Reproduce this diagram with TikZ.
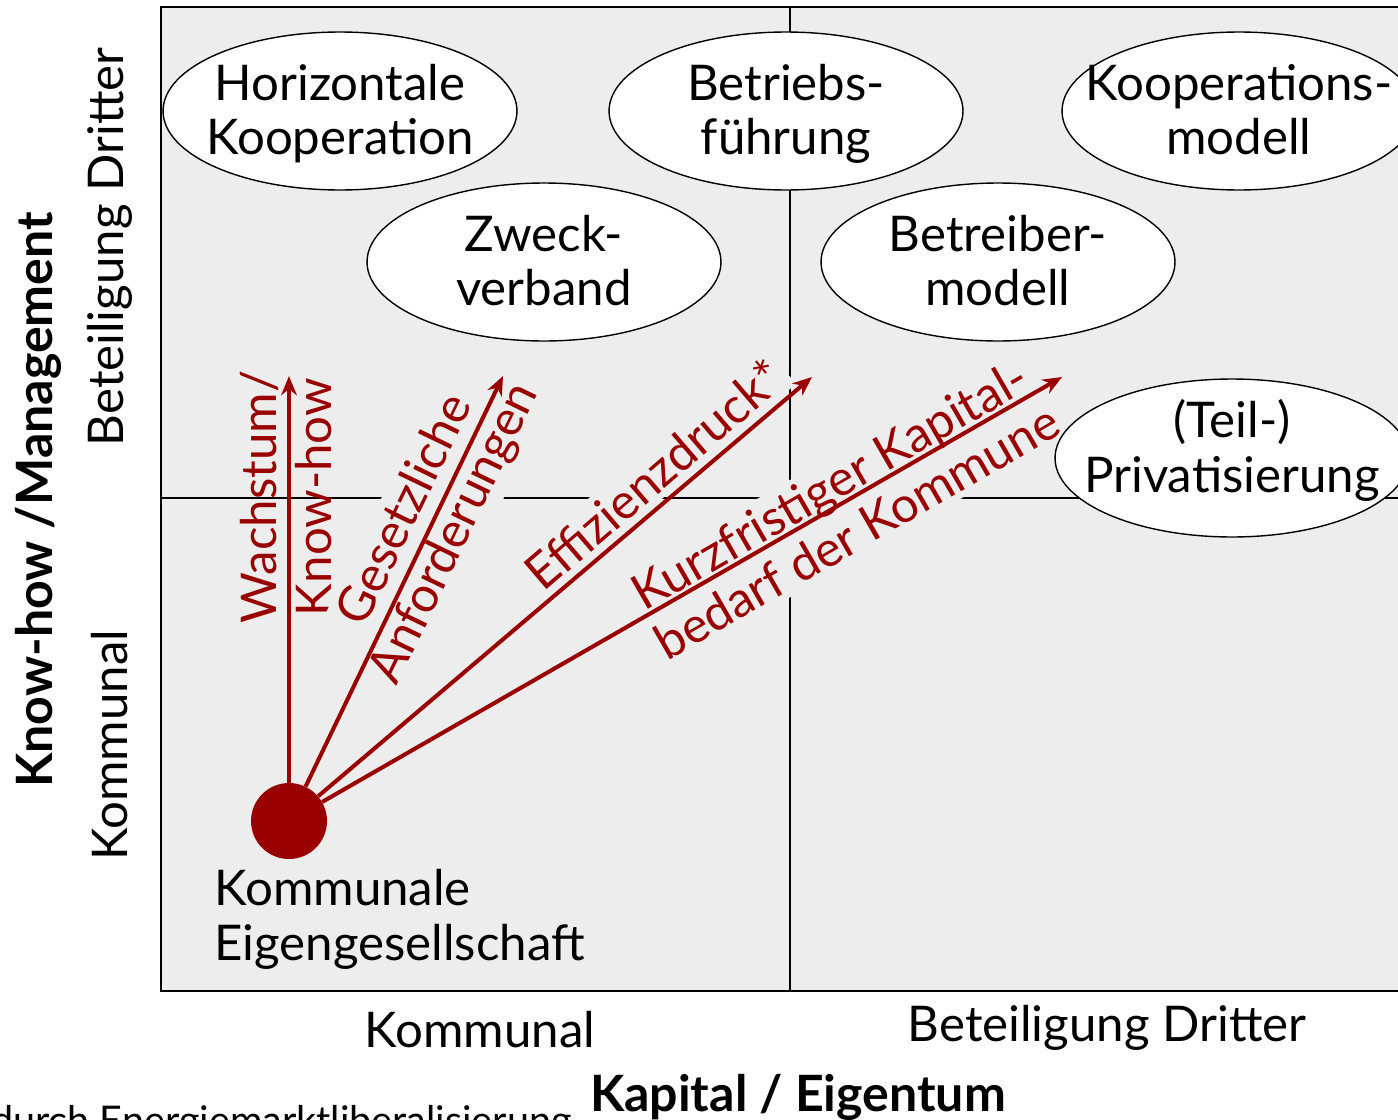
\documentclass[tikz,border=0pt]{standalone}
\usepackage{fontspec}
\setmainfont{Lato}
\usetikzlibrary{shapes.geometric,arrows.meta}
\definecolor{panelgray}{HTML}{EDEDED}
\definecolor{forcered}{HTML}{990000}
% two centred lines in an empty box, its last baseline #1 below the centre,
% so the ellipse keeps its own size
\newcommand\twolines[3][25pt]{\makebox[0pt]{\raisebox{-#1}[0pt][0pt]{%
  \begin{tabular}[b]{@{}c@{}}#2\\#3\end{tabular}}}}
\begin{document}
\begin{tikzpicture}[x=0.02cm,y=-0.02cm,
  big/.style={font=\fontsize{28}{31}\selectfont},
  model/.style={ellipse,draw=black,fill=white,line width=0.8pt,
    minimum width=7.08cm,minimum height=3.16cm,inner sep=0pt,big},
  force/.style={forcered,align=center,big},
  masked/.style={force,fill=panelgray,inner sep=3pt},
  push/.style={forcered,line width=2.3pt,-{Stealth[length=11pt,width=9pt]}},
  axis/.style={big},
  axisbold/.style={font=\fontsize{28.5}{30}\selectfont\bfseries}]
\useasboundingbox (0,0) rectangle (1398,1119);
\clip (0,0) rectangle (1398,1119);

% panel and quadrant dividers
\draw[fill=panelgray,line width=0.8pt] (161,7) rectangle (1420,991);
\draw[line width=0.8pt] (790,7) -- (790,991);
\draw[line width=0.8pt] (161,498) -- (1420,498);

% force labels
\node[force,rotate=90] (wk) at (286,497) {Wachstum/\\Know-how};
\node[masked,rotate=64.2] (ga) at (431,522) {Gesetzliche\\Anforderungen};
\node[masked,rotate=40.6] (ez) at (654,474) {Effizienzdruck*};
\node[masked,rotate=30] (kk) at (843,508) {Kurzfristiger Kapital-\\bedarf der Kommune};

% organisational models
\node[model] (hk) at (340,111) {\twolines{Horizontale}{Kooperation}};
\node[model] (bf) at (786,111) {\twolines{Betriebs-}{führung}};
\node[model] (km) at (1239,111) {\twolines{Kooperations-}{modell}};
\node[model] (zv) at (544,262) {\twolines{Zweck-}{verband}};
\node[model] (bm) at (998,262) {\twolines{Betreiber-}{modell}};
\node[model] (tp) at (1232,458) {\twolines[19.5pt]{(Teil-)}{Privatisierung}};

% municipal company and driving forces
\node[circle,fill=forcered,minimum size=1.52cm,inner sep=0pt] (dot) at (289,821) {};
\coordinate (t1) at (289,376);
\coordinate (t2) at (503,376);
\coordinate (t3) at (812,377);
\coordinate (t4) at (1062,377);
\draw[push] (dot) -- (t1);
\draw[push] (dot) -- (t2);
\draw[push] (dot) -- (t3);
\draw[push] (dot) -- (t4);
\node[big,align=left,anchor=north west,inner sep=0pt] (eg) at (214,869) {Kommunale\\Eigengesellschaft};

% axes
\node[axisbold,rotate=90] (ya) at (38,500) {Know-how /Management};
\node[axis,rotate=90] (yt) at (110,247) {Beteiligung Dritter};
\node[axis,rotate=90] (yk) at (110,745) {Kommunal};
\node[axis] (xk) at (480,1030) {Kommunal};
\node[axis] (xt) at (1107,1028) {Beteiligung Dritter};
\node[axisbold] (xa) at (798,1097) {Kapital / Eigentum};
\node[font=\fontsize{22.5}{26}\selectfont,anchor=base east,inner sep=0pt] (fn) at (572,1134) {durch Energiemarktliberalisierung};
\end{tikzpicture}
\end{document}
